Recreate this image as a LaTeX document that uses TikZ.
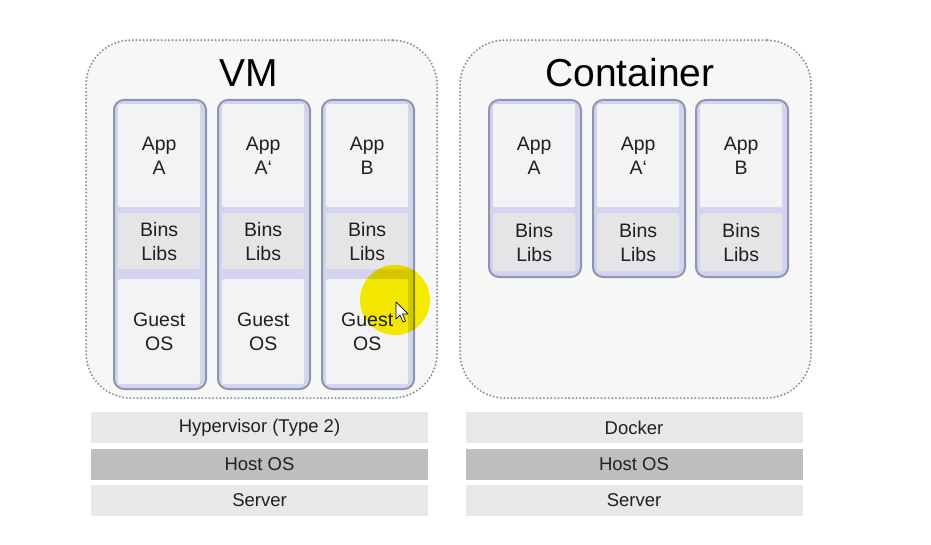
\documentclass[tikz,border=0pt]{standalone}
\usepackage{fontspec}
\setmainfont{Liberation Sans}
\definecolor{panelbg}{HTML}{F7F7F8}
\definecolor{panelline}{HTML}{8E8E8E}
\definecolor{stackline}{HTML}{8C96AC}
\definecolor{stackband}{HTML}{D3D3F0}
\definecolor{cellbg}{HTML}{F3F3F5}
\definecolor{libbg}{HTML}{E5E5E7}
\definecolor{layerbg}{HTML}{E8E8E8}
\definecolor{hostbg}{HTML}{BEBEBE}
\definecolor{txt}{HTML}{202020}
\definecolor{marker}{HTML}{FFF200}
\begin{document}
\begin{tikzpicture}[x=1pt,y=-1pt,
	panel/.style={draw=panelline, line width=2.2pt, line cap=round, dash pattern=on 0pt off 3.6pt, fill=panelbg, rounded corners=45pt, anchor=north west, inner sep=0pt},
	stackbox/.style={draw=stackline, line width=2pt, fill=stackband, rounded corners=10pt, anchor=north west, inner sep=0pt},
	cell/.style={fill=cellbg, rounded corners=2pt, anchor=north west, inner sep=0pt, minimum width=82pt, align=center, text=txt, font=\fontsize{19.5}{24}\selectfont},
	libcell/.style={cell, fill=libbg},
	title/.style={text=black, font=\fontsize{39}{44}\selectfont},
	layer/.style={fill=layerbg, minimum width=337pt, minimum height=31pt, inner sep=0pt, text=txt, font=\fontsize{18.5}{22}\selectfont},
	hostlayer/.style={layer, fill=hostbg}]
	\useasboundingbox (0,0) rectangle (931,545);
	% VM
	\node[panel, minimum width=351pt, minimum height=358pt] (vm) at (85,39) {};
	\node[title] (vmtitle) at (249,73) {VM};
	\foreach \x/\app/\name in {113/A/vma, 217/A‘/vmb, 321/B/vmc}{
		\node[stackbox, minimum width=92pt, minimum height=289pt] (\name) at (\x,99) {};
		\node[cell, minimum height=103pt] (\name-app) at (\x+5,104) {App\\\app};
		\node[libcell, minimum height=56pt] (\name-lib) at (\x+5,213) {Bins\\Libs};
		\node[cell, minimum height=105pt] (\name-os) at (\x+5,279) {Guest\\OS};
	}
	% Container
	\node[panel, minimum width=351pt, minimum height=358pt] (ct) at (459,39) {};
	\node[title] (cttitle) at (630,73) {Container};
	\foreach \x/\app/\name in {488/A/cta, 592/A‘/ctb, 695/B/ctc}{
		\node[stackbox, minimum width=92pt, minimum height=177pt] (\name) at (\x,99) {};
		\node[cell, minimum height=103pt] (\name-app) at (\x+5,104) {App\\\app};
		\node[libcell, minimum height=58pt] (\name-lib) at (\x+5,213) {Bins\\Libs};
	}
	% layers
	\node[layer] (hyper) at (259.5,427.5) {Hypervisor (Type 2)};
	\node[hostlayer] (vmhost) at (259.5,464) {Host OS};
	\node[layer] (vmserver) at (259.5,500.5) {Server};
	\node[layer] (docker) at (634,427.5) {Docker};
	\node[hostlayer] (cthost) at (634,464) {Host OS};
	\node[layer] (ctserver) at (634,500.5) {Server};
	% pointer
	\begin{scope}[blend mode=multiply]
		\fill[marker] (395,300) circle (35pt);
	\end{scope}
	\draw[fill=white, line width=0.7pt, line join=round] (396,302) -- ++(0,17) -- ++(4,-4) -- ++(3,7) -- ++(2.5,-1) -- ++(-3,-7) -- ++(5.5,0) -- cycle;
\end{tikzpicture}
\end{document}
